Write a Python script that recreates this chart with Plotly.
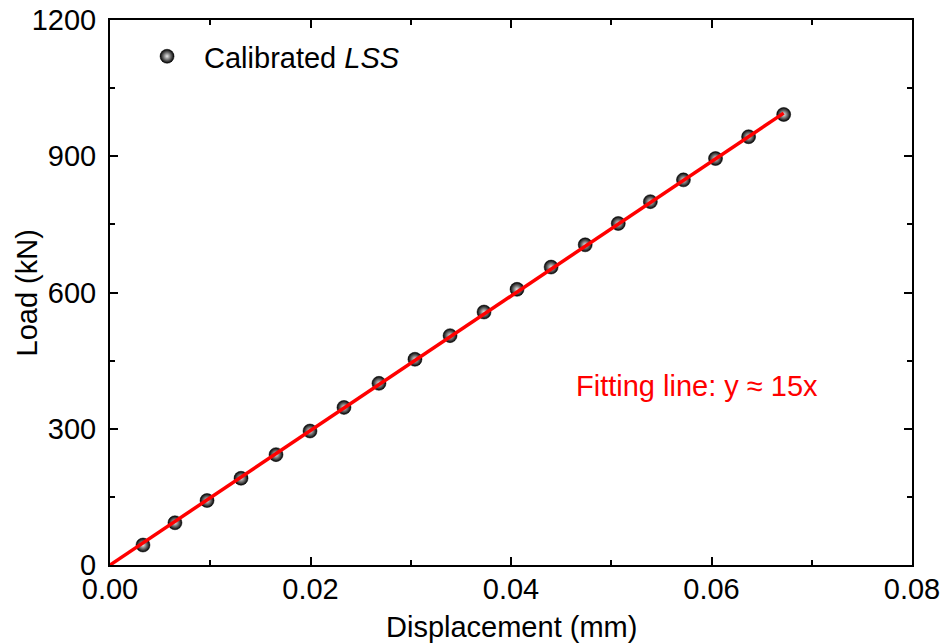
import plotly.graph_objects as go

disp = [0.00329, 0.00648, 0.00968, 0.01307, 0.01656, 0.01995, 0.02334, 0.02683,
        0.03042, 0.03392, 0.03731, 0.04060, 0.04400, 0.04740, 0.05070, 0.05390,
        0.05720, 0.06040, 0.06370, 0.06720]
load = [44, 93, 142, 191, 243, 295, 347, 400, 453, 505, 557, 607, 656, 705,
        752, 800, 848, 895, 943, 992]
fit_x = [0.0, 0.0672]
fit_y = [0.0, 995]

font = "Liberation Sans, Arial, sans-serif"
fs = 29

fig = go.Figure()
fig.add_trace(go.Scatter(x=disp, y=load, mode="markers", name="Calibrated <i>LSS</i>",
                         marker=dict(size=14, color="#000000",
                                     gradient=dict(type="radial", color="#e8e8e8"),
                                     line=dict(width=0.5, color="#000000"))))
fig.add_trace(go.Scatter(x=fit_x, y=fit_y, mode="lines",
                         line=dict(color="#ff0000", width=3.5), showlegend=False))

fig.add_annotation(x=0.0463, y=394, xref="x", yref="y", text="Fitting line: y ≈ 15x",
                   showarrow=False, xanchor="left", yanchor="middle",
                   font=dict(family=font, size=fs, color="#ff0000"))
fig.add_annotation(x=-0.1035, y=0.5, xref="paper", yref="paper", text="Load (kN)",
                   textangle=-90, showarrow=False, xanchor="center", yanchor="middle",
                   font=dict(family=font, size=fs, color="black"))
fig.add_annotation(x=0.5, y=-0.1138, xref="paper", yref="paper", text="Displacement (mm)",
                   showarrow=False, xanchor="center", yanchor="middle",
                   font=dict(family=font, size=fs, color="black"))

axis_common = dict(showline=True, linecolor="black", linewidth=2, mirror="ticks",
                   ticks="inside", ticklen=8, tickwidth=2, tickcolor="black",
                   showgrid=False, zeroline=False, automargin=False,
                   tickfont=dict(family=font, size=fs, color="black"))

fig.update_xaxes(range=[0, 0.08], tickvals=[0, 0.02, 0.04, 0.06, 0.08],
                 ticktext=["0.00", "0.02", "0.04", "0.06", "0.08"],
                 minor=dict(dtick=0.01, ticks="inside", ticklen=5, tickwidth=2, tickcolor="black"),
                 ticklabelstandoff=-3, **axis_common)
fig.update_yaxes(range=[0, 1200], tickvals=[0, 300, 600, 900, 1200],
                 minor=dict(dtick=150, ticks="inside", ticklen=5, tickwidth=2, tickcolor="black"),
                 ticklabelstandoff=6, **axis_common)

fig.update_layout(width=943, height=644, margin=dict(l=110, r=31, t=20, b=79),
                  plot_bgcolor="white", paper_bgcolor="white",
                  legend=dict(x=0.025, y=0.98, xanchor="left", yanchor="top",
                              bgcolor="rgba(0,0,0,0)", itemwidth=64,
                              font=dict(family=font, size=fs, color="black")))

fig.write_html("out.html")
